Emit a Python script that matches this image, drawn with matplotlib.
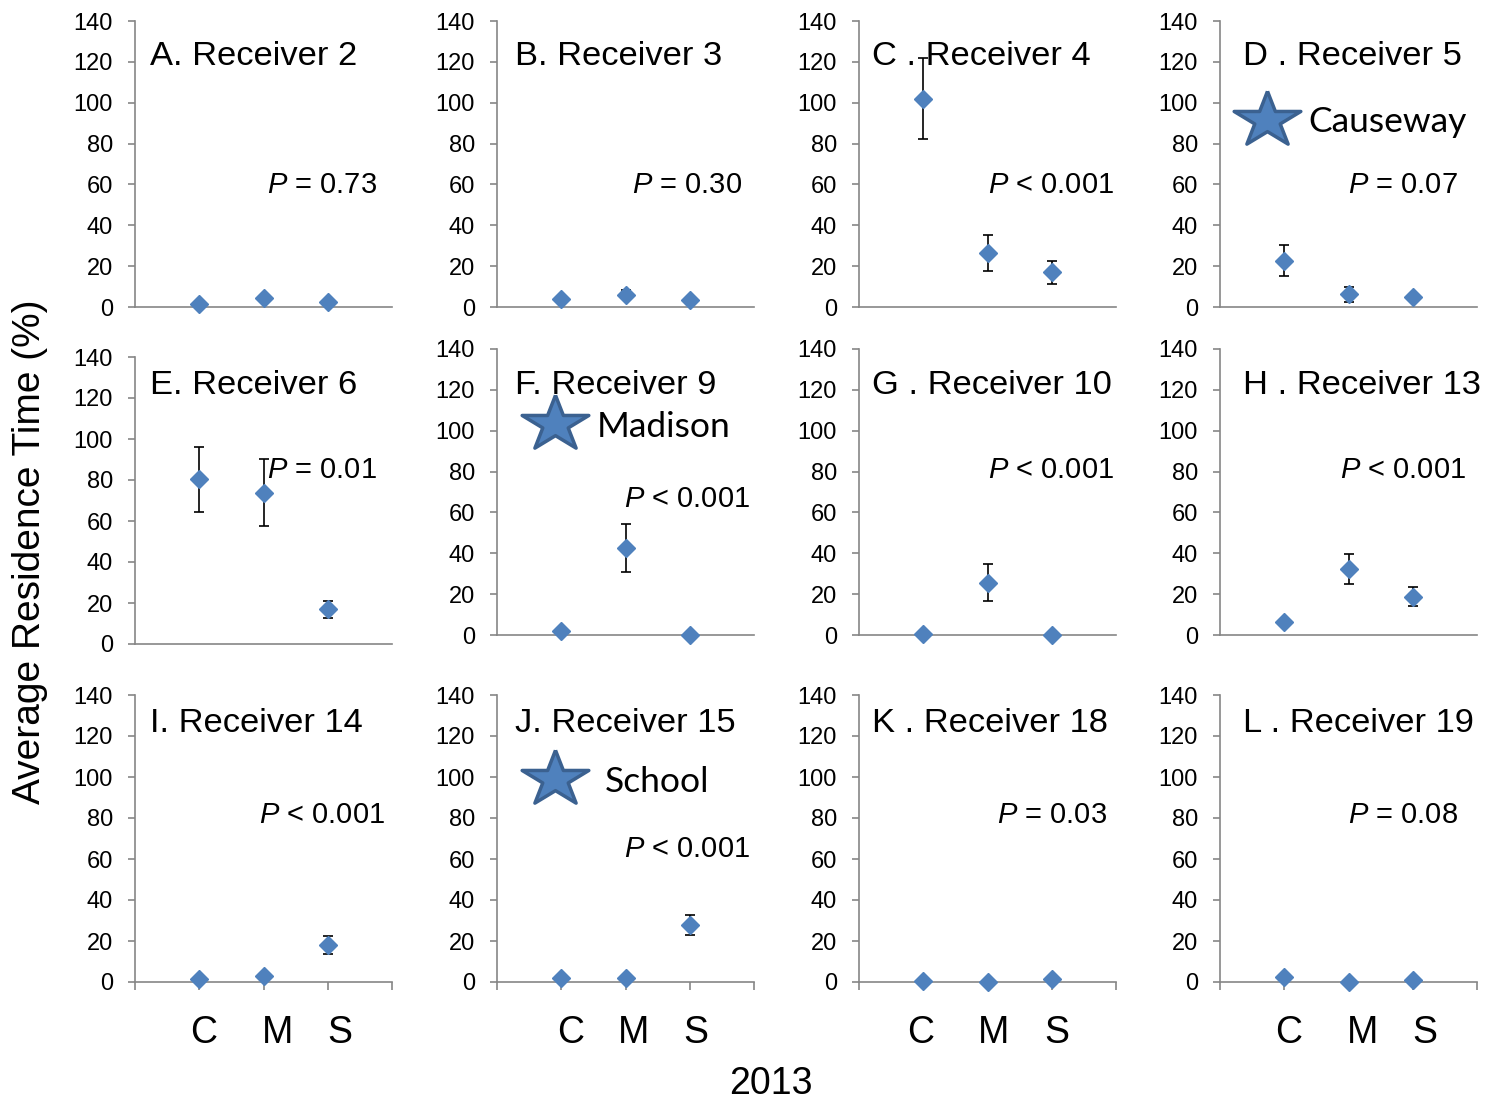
import numpy as np
import matplotlib
matplotlib.use("Agg")
import matplotlib.pyplot as plt

plt.rcParams['font.family'] = ['Liberation Sans', 'DejaVu Sans']
plt.rcParams['mathtext.fontset'] = 'custom'
plt.rcParams['mathtext.it'] = 'Liberation Sans:italic'
plt.rcParams['mathtext.rm'] = 'Liberation Sans'

# ---------------- data ----------------
categories = ['C', 'M', 'S']
panel_titles = ['A. Receiver 2', 'B. Receiver 3', 'C . Receiver 4', 'D . Receiver 5',
                'E. Receiver 6', 'F. Receiver 9', 'G . Receiver 10', 'H . Receiver 13',
                'I. Receiver 14', 'J. Receiver 15', 'K . Receiver 18', 'L . Receiver 19']
p_texts = ['= 0.73', '= 0.30', '< 0.001', '= 0.07',
           '= 0.01', '< 0.001', '< 0.001', '< 0.001',
           '< 0.001', '< 0.001', '= 0.03', '= 0.08']
means_A = [1.5, 4.3, 2.5]
means_B = [4.0, 6.0, 3.5]
means_C = [102.0, 26.3, 17.0]
means_D = [22.7, 6.2, 5.0]
means_E = [80.3, 73.8, 16.9]
means_F = [2.1, 42.7, 0.2]
means_G = [0.5, 25.6, 0.2]
means_H = [6.5, 32.3, 18.7]
means_I = [1.5, 2.9, 18.0]
means_J = [2.1, 2.1, 27.8]
means_K = [0.6, 0.2, 1.3]
means_L = [2.6, 0.1, 1.0]
err_A = [0.8, 1.2, 0.8]
err_B = [1.0, 2.2, 0.8]
err_C = [20.0, 8.9, 5.7]
err_D = [7.6, 3.6, 1.2]
err_E = [15.7, 16.3, 4.1]
err_F = [0.6, 11.8, 0.1]
err_G = [0.3, 9.2, 0.1]
err_H = [1.5, 7.4, 4.6]
err_I = [0.5, 1.0, 4.2]
err_J = [0.5, 0.6, 5.0]
err_K = [0.3, 0.1, 0.5]
err_L = [0.8, 0.1, 0.3]
site_labels = ['Causeway', 'Madison', 'School']
y_ticks = [0, 20, 40, 60, 80, 100, 120, 140]
year_label = '2013'

means = [means_A, means_B, means_C, means_D, means_E, means_F,
         means_G, means_H, means_I, means_J, means_K, means_L]
errs = [err_A, err_B, err_C, err_D, err_E, err_F,
        err_G, err_H, err_I, err_J, err_K, err_L]

# ---------------- layout (pixels) ----------------
W, H = 1487, 1101
fig = plt.figure(figsize=(W / 100, H / 100), dpi=100)

col_left = [135, 497, 859, 1220]
ax_w = 257
row_box = [[(21, 307)] * 4,
           [(357, 644), (349, 635), (349, 635), (349, 635)],
           [(695, 982)] * 4]

title_base = [65, 394, 732]
title_x = [150, 515, 872, 1243]
p_pos = [(267, 193), (632, 193), (988, 193), (1348, 193),
         (267, 478), (624, 507), (988, 478), (1340, 478),
         (259, 823), (624, 857), (997, 823), (1348, 823)]

def fx(x):
    return x / W

def fy(y):
    return 1 - y / H

blue = '#4F81BD'
gray = '#868686'

axes = []
for r in range(3):
    for c in range(4):
        i = r * 4 + c
        top, bot = row_box[r][c]
        ax = fig.add_axes([fx(col_left[c]), fy(bot), ax_w / W, (bot - top) / H])
        x = np.arange(1, len(categories) + 1)
        ax.errorbar(x, means[i], yerr=errs[i], fmt='D', color=blue, ms=9.5,
                    ecolor='black', elinewidth=1.2, capsize=3.5, capthick=1.2,
                    mec=blue, clip_on=False, zorder=3)
        ax.set_xlim(0, 4)
        ax.set_ylim(0, 140)
        ax.set_yticks(y_ticks)
        ax.set_yticklabels([str(t) for t in y_ticks], fontsize=17)
        for s in ['top', 'right']:
            ax.spines[s].set_visible(False)
        for s in ['left', 'bottom']:
            ax.spines[s].set_color(gray)
            ax.spines[s].set_linewidth(1.2)
        ax.tick_params(axis='y', direction='out', length=5, width=1.2,
                       color=gray, pad=11)
        if r == 2:
            ax.set_xticks([0, 1, 2, 3, 4])
            ax.tick_params(axis='x', direction='out', length=6, width=1.2,
                           color=gray, labelbottom=False)
        else:
            ax.set_xticks([])
        axes.append(ax)
        fig.text(fx(title_x[c]), fy(title_base[r]), panel_titles[i],
                 fontsize=24.8, ha='left', va='baseline')
        px, py = p_pos[i]
        fig.text(fx(px), fy(py), '$P$ ' + p_texts[i], fontsize=21,
                 ha='left', va='baseline')

# star markers with site names
stretch = 1.2
ang = np.pi / 2 + np.arange(10) * np.pi / 5
rad = np.where(np.arange(10) % 2 == 0, 1.0, 0.382)
star_verts = np.column_stack([stretch * rad * np.cos(ang), rad * np.sin(ang)])
star_verts = np.vstack([star_verts, star_verts[:1]])

star_pos = [(1267, 120), (555, 424), (555, 779)]
site_text_pos = [(1308, 132), (597, 437), (605, 792)]
for (sx, sy), (tx, ty), name in zip(star_pos, site_text_pos, site_labels):
    fig.add_artist(plt.Line2D([fx(sx)], [fy(sy)], marker=star_verts, ms=48,
                              mfc=blue, mec='#3B6190', mew=2.5,
                              transform=fig.transFigure, linestyle='none'))
    fig.text(fx(tx), fy(ty), name, fontsize=25.5, family=['Lato', 'DejaVu Sans'],
             ha='left', va='baseline')

# category letters under bottom row
cat_x = [[204, 278, 340], [571, 634, 696], [921, 994, 1057], [1289, 1363, 1425]]
for c in range(4):
    for k, lab in enumerate(categories):
        fig.text(fx(cat_x[c][k]), fy(1043), lab, fontsize=27, ha='center',
                 va='baseline')

fig.text(fx(771), fy(1094), year_label, fontsize=27, ha='center', va='baseline')
fig.text(fx(30), fy(552), 'Average Residence Time (%)', fontsize=28,
         rotation=90, ha='center', va='center')

fig.savefig('out.png', dpi=100)
